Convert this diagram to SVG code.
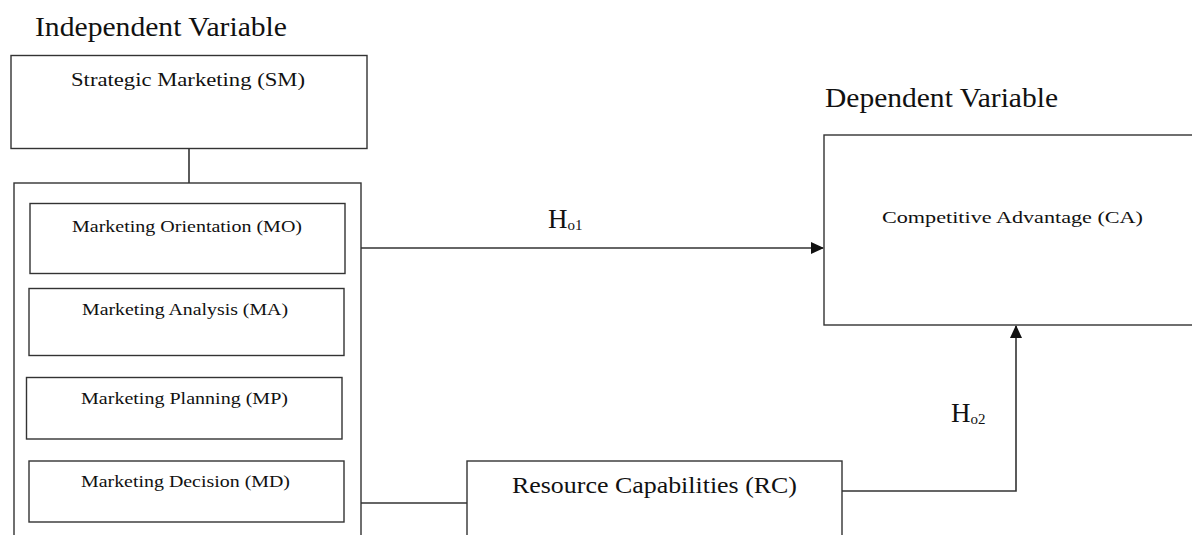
<svg xmlns="http://www.w3.org/2000/svg" width="1192" height="535" viewBox="0 0 1192 535">
<style>
.box{fill:#fff;stroke:#333;stroke-width:1.4}
.ln{fill:none;stroke:#333;stroke-width:1.6}
text{font-family:"Liberation Serif","DejaVu Serif",serif;fill:#111}
.t{font-size:17px}
.h{font-size:27px}
.big{font-size:27px}
</style>
<defs>
<marker id="ah" markerWidth="13" markerHeight="12" refX="12" refY="6" orient="auto" markerUnits="userSpaceOnUse" viewBox="0 0 13 12">
<path d="M0,0 L13,6 L0,12 Z" fill="#111"/>
</marker>
</defs>
<rect width="1192" height="535" fill="#fff"/>
<text class="big" x="35" y="36" textLength="252" lengthAdjust="spacingAndGlyphs">Independent Variable</text>
<text class="big" x="825" y="107" textLength="233" lengthAdjust="spacingAndGlyphs">Dependent Variable</text>
<g id="connectors">
<line class="ln" x1="189" y1="149" x2="189" y2="183"/>
<line class="ln" x1="361" y1="248" x2="823" y2="248" marker-end="url(#ah)"/>
<line class="ln" x1="361" y1="503" x2="467" y2="503"/>
<polyline class="ln" points="842,491 1016,491 1016,326" marker-end="url(#ah)"/>
<text class="h" x="548" y="228">H<tspan font-size="15" dy="2">o1</tspan></text>
<text class="h" x="951" y="422">H<tspan font-size="15" dy="2">o2</tspan></text>
</g>
<g id="sm">
<rect class="box" x="11" y="55.5" width="356" height="93"/>
<text x="71" y="86" style="font-size:19px" textLength="234" lengthAdjust="spacingAndGlyphs">Strategic Marketing (SM)</text>
</g>
<g id="group">
<rect class="box" x="14" y="183" width="347" height="360"/>
</g>
<g id="mo">
<rect class="box" x="30" y="203.5" width="315" height="70"/>
<text class="t" x="72" y="232" textLength="230" lengthAdjust="spacingAndGlyphs">Marketing Orientation (MO)</text>
</g>
<g id="ma">
<rect class="box" x="29" y="288.5" width="315" height="67"/>
<text class="t" x="82" y="315" textLength="206" lengthAdjust="spacingAndGlyphs">Marketing Analysis (MA)</text>
</g>
<g id="mp">
<rect class="box" x="26.5" y="377.5" width="315.5" height="61.5"/>
<text class="t" x="81" y="404" textLength="207" lengthAdjust="spacingAndGlyphs">Marketing Planning (MP)</text>
</g>
<g id="md">
<rect class="box" x="29" y="461" width="315" height="61"/>
<text class="t" x="81" y="487" textLength="209" lengthAdjust="spacingAndGlyphs">Marketing Decision (MD)</text>
</g>
<g id="ca">
<rect class="box" x="824" y="135" width="380" height="190"/>
<text class="t" x="882" y="223" textLength="261" lengthAdjust="spacingAndGlyphs">Competitive Advantage (CA)</text>
</g>
<g id="rc">
<rect class="box" x="467" y="461" width="375" height="90"/>
<text x="512" y="493" style="font-size:23px" textLength="285" lengthAdjust="spacingAndGlyphs">Resource Capabilities (RC)</text>
</g>
</svg>
